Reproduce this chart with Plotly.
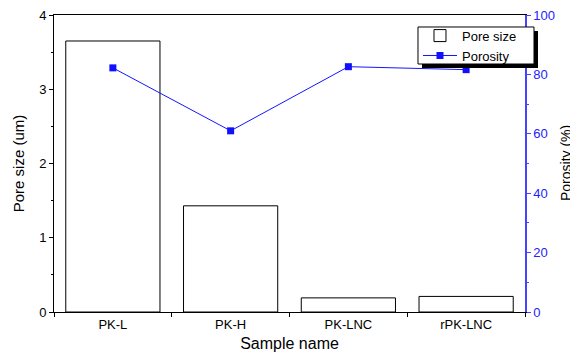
import plotly.graph_objects as go

samples = ["PK-L", "PK-H", "PK-LNC", "rPK-LNC"]
pore_size = [3.65, 1.43, 0.19, 0.21]
porosity = [82.2, 61.0, 82.6, 81.6]

fig = go.Figure()
fig.add_trace(go.Bar(x=samples, y=pore_size, name="Pore size", width=0.8,
                     marker=dict(color="white", line=dict(color="black", width=1))))
fig.add_trace(go.Scatter(x=samples, y=porosity, name="Porosity", yaxis="y2",
                         mode="lines+markers",
                         line=dict(color="#1515ff", width=1),
                         marker=dict(symbol="square", size=7, color="#1010ff")))

fig.update_layout(
    width=570, height=344,
    margin=dict(l=46, r=53, t=7, b=40, autoexpand=False),
    plot_bgcolor="white", paper_bgcolor="white",
    font=dict(family="Liberation Sans, Arial, sans-serif", size=13, color="black"),
    xaxis=dict(range=[-0.5, 3.5], showline=True, linecolor="black", linewidth=1,
               mirror=True, ticks="outside", tickson="boundaries", ticklen=4,
               tickcolor="black", showgrid=False, automargin=False,
               title=dict(text="Sample name", font=dict(size=16), standoff=8)),
    yaxis=dict(range=[0, 4], dtick=1, showline=True, linecolor="black", linewidth=1,
               ticks="outside", ticklen=4, tickcolor="black", showgrid=False,
               zeroline=False, automargin=False, ticklabeloverflow="allow",
               minor=dict(ticks="outside", dtick=0.5, ticklen=2, tickcolor="black"),
               title=dict(text="Pore size (um)", font=dict(size=15), standoff=10)),
    yaxis2=dict(range=[0, 100], dtick=20, overlaying="y", side="right",
                showline=True, linecolor="#4444ff", linewidth=1.5,
                ticks="outside", ticklen=4, tickcolor="#4444ff", automargin=False,
                ticklabeloverflow="allow",
                tickfont=dict(color="#2222ff", size=13), showgrid=False, zeroline=False,
                minor=dict(ticks="outside", dtick=10, ticklen=2, tickcolor="#4444ff")),
    legend=dict(x=0.7728, y=0.981, xanchor="left", yanchor="top",
                bgcolor="rgba(0,0,0,0)", borderwidth=0,
                font=dict(size=13), tracegroupgap=0, itemwidth=34),
    bargap=0.2,
    showlegend=True,
)
# right axis title
fig.add_annotation(text="Porosity (%)", xref="paper", yref="paper", x=1.086, y=0.5,
                   textangle=-90, showarrow=False, font=dict(size=14, color="black"),
                   xanchor="center", yanchor="middle")
# legend frame with drop shadow
fig.add_shape(type="rect", xref="paper", yref="paper", x0=0.7813, x1=1.0276, y0=0.8215, y1=0.9461,
              fillcolor="black", line=dict(width=0), layer="above")
fig.add_shape(type="rect", xref="paper", yref="paper", x0=0.7728, x1=1.0191, y0=0.835, y1=0.9596,
              fillcolor="white", line=dict(color="black", width=1), layer="above")

fig.write_html("out.html")
